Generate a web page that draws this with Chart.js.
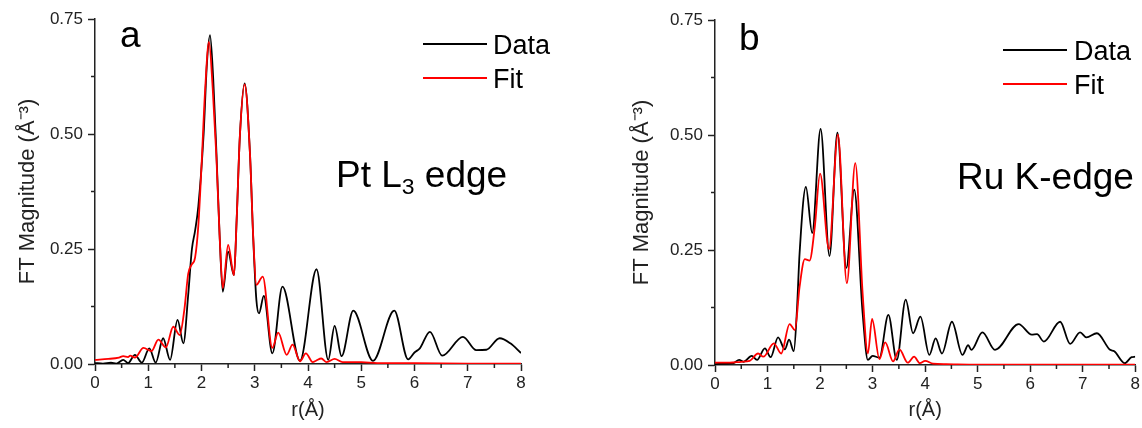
<!DOCTYPE html>
<html>
<head>
<meta charset="utf-8">
<script src="https://cdn.jsdelivr.net/npm/chart.js@4.4.1/dist/chart.umd.min.js"></script>
<style>
  body { margin: 0; background: #fff; }
  #wrap { position: relative; width: 1142px; height: 428px; overflow: hidden; font-family: "Liberation Sans", Arial, sans-serif; color: #000; }
  canvas { position: absolute; top: 0; }
  .txt { position: absolute; line-height: 1; white-space: nowrap; }
  .big { font-size: 37px; }
  .leg { font-size: 27px; }
  .legline { position: absolute; height: 2px; }
  sub { font-size: 0.62em; vertical-align: -0.32em; line-height: 0; }
</style>
</head>
<body>
<div id="wrap">
  <canvas id="chartA" width="560" height="428" style="left:0"></canvas>
  <canvas id="chartB" width="522" height="428" style="left:620px"></canvas>
  <div class="txt big" style="left:120px;top:16px">a</div>
  <div class="txt big" style="left:739px;top:19px">b</div>
  <div class="txt big" style="left:336px;top:156px">Pt L<sub>3</sub> edge</div>
  <div class="txt big" style="left:957px;top:158px">Ru K-edge</div>
  <div id="legendA"></div>
  <div id="legendB"></div>
</div>
<script>
// x / y ticks
const xTicks = [0, 1, 2, 3, 4, 5, 6, 7, 8];
const xMinor = [0.5, 1.5, 2.5, 3.5, 4.5, 5.5, 6.5, 7.5];
const yTicks = [0, 0.25, 0.5, 0.75];
const yMinor = [0.125, 0.375, 0.625];

// panel a - Pt L3 edge
const aDataR = [0, 0.15, 0.3, 0.4, 0.53, 0.62, 0.75, 0.88, 1.02, 1.14, 1.28, 1.41, 1.55, 1.66, 1.75, 1.82, 1.88, 1.94, 2.04, 2.1, 2.16, 2.22, 2.28, 2.34, 2.4, 2.5, 2.61, 2.66, 2.72, 2.81, 2.91, 2.97, 3.03, 3.08, 3.17, 3.33, 3.52, 3.85, 4.16, 4.38, 4.5, 4.63, 4.85, 5.22, 5.62, 5.88, 6.0, 6.1, 6.29, 6.52, 6.91, 7.16, 7.35, 7.6, 7.8, 8.0];
const aDataY = [0.002, 0.001, 0.003, 0.001, 0.009, 0.002, 0.02, 0.003, 0.034, 0.003, 0.056, 0.009, 0.096, 0.045, 0.15, 0.25, 0.29, 0.342, 0.5, 0.65, 0.715, 0.62, 0.46, 0.28, 0.157, 0.244, 0.193, 0.313, 0.494, 0.61, 0.458, 0.277, 0.14, 0.11, 0.148, 0.023, 0.168, 0.007, 0.206, 0.009, 0.083, 0.017, 0.116, 0.007, 0.116, 0.01, 0.025, 0.034, 0.07, 0.018, 0.059, 0.03, 0.031, 0.056, 0.045, 0.024];
const aFitR = [0, 0.25, 0.45, 0.53, 0.62, 0.66, 0.75, 0.91, 1.06, 1.19, 1.33, 1.47, 1.59, 1.68, 1.75, 1.81, 1.88, 1.94, 2.0, 2.07, 2.14, 2.21, 2.28, 2.34, 2.4, 2.5, 2.61, 2.66, 2.72, 2.81, 2.91, 2.97, 3.03, 3.15, 3.33, 3.44, 3.6, 3.71, 3.85, 3.96, 4.09, 4.15, 4.25, 4.35, 4.5, 4.65, 5.0, 5.3, 6.0, 7.0, 8.0];
const aFitY = [0.009, 0.011, 0.014, 0.017, 0.015, 0.018, 0.014, 0.035, 0.028, 0.053, 0.036, 0.081, 0.063, 0.12, 0.196, 0.215, 0.232, 0.3, 0.43, 0.6, 0.7, 0.6, 0.45, 0.28, 0.165, 0.259, 0.193, 0.313, 0.494, 0.608, 0.458, 0.28, 0.172, 0.19, 0.035, 0.068, 0.02, 0.042, 0.006, 0.023, 0.004, 0.007, 0.012, 0.004, 0.011, 0.004, 0.004, 0.002, 0.002, 0.001, 0.001];

// panel b - Ru K-edge
const bDataR = [0, 0.2, 0.35, 0.46, 0.54, 0.7, 0.8, 0.95, 1.06, 1.2, 1.33, 1.41, 1.5, 1.56, 1.61, 1.73, 1.85, 2.01, 2.18, 2.33, 2.5, 2.65, 2.81, 2.91, 3.0, 3.13, 3.3, 3.46, 3.63, 3.77, 3.91, 4.08, 4.2, 4.32, 4.51, 4.71, 4.82, 4.88, 5.09, 5.33, 5.78, 6.03, 6.13, 6.26, 6.57, 6.76, 6.95, 7.07, 7.27, 7.52, 7.6, 7.8, 7.93, 8.0];
const bDataY = [0.002, 0.003, 0.004, 0.011, 0.007, 0.02, 0.011, 0.036, 0.017, 0.06, 0.034, 0.055, 0.03, 0.12, 0.243, 0.387, 0.287, 0.513, 0.237, 0.505, 0.211, 0.381, 0.113, 0.011, 0.02, 0.016, 0.109, 0.011, 0.142, 0.069, 0.105, 0.022, 0.058, 0.025, 0.094, 0.022, 0.043, 0.033, 0.071, 0.033, 0.089, 0.066, 0.067, 0.051, 0.094, 0.046, 0.071, 0.06, 0.069, 0.033, 0.03, 0.004, 0.017, 0.018];
const bFitR = [0, 0.28, 0.5, 0.66, 0.82, 0.92, 1.12, 1.26, 1.42, 1.52, 1.61, 1.71, 1.8, 1.9, 2.0, 2.17, 2.34, 2.51, 2.67, 2.81, 2.91, 2.99, 3.13, 3.24, 3.39, 3.51, 3.67, 3.79, 3.9, 4.0, 4.15, 4.4, 5.0, 8.0];
const bFitY = [0.005, 0.005, 0.007, 0.009, 0.025, 0.018, 0.047, 0.025, 0.089, 0.076, 0.17, 0.23, 0.227, 0.301, 0.416, 0.252, 0.501, 0.178, 0.439, 0.156, 0.025, 0.1, 0.013, 0.049, 0.008, 0.034, 0.005, 0.018, 0.004, 0.009, 0.003, 0.002, 0.001, 0.001];

const axisColor = '#222';
const fontFamily = '"Liberation Sans", Arial, sans-serif';

const pts = (rs, ys) => rs.map((r, i) => ({ x: r, y: ys[i] }));

// draws the short minor ticks between the labelled ones
const minorTicks = {
  id: 'minorTicks',
  afterDraw(chart) {
    const { ctx, scales: { x, y } } = chart;
    ctx.save();
    ctx.strokeStyle = axisColor;
    ctx.lineWidth = 1.5;
    ctx.beginPath();
    xMinor.forEach(v => { const px = x.getPixelForValue(v); ctx.moveTo(px, x.top); ctx.lineTo(px, x.top + 4); });
    yMinor.forEach(v => { const py = y.getPixelForValue(v); ctx.moveTo(y.right, py); ctx.lineTo(y.right - 4, py); });
    ctx.stroke();
    ctx.restore();
  }
};

function makeChart(id, dataR, dataY, fitR, fitY, opts) {
  return new Chart(document.getElementById(id), {
    type: 'line',
    data: {
      datasets: [
        { label: 'Data', data: pts(dataR, dataY), borderColor: '#000', order: 1 },
        { label: 'Fit', data: pts(fitR, fitY), borderColor: '#ff0000', order: 0 }
      ]
    },
    options: {
      responsive: false,
      animation: false,
      devicePixelRatio: 1,
      layout: { padding: { top: opts.top, right: opts.right, left: 0, bottom: 0 } },
      elements: {
        point: { radius: 0 },
        line: { borderWidth: 1.8, cubicInterpolationMode: 'monotone' }
      },
      plugins: { legend: { display: false }, tooltip: { enabled: false } },
      scales: {
        x: {
          type: 'linear', min: 0, max: 8,
          afterBuildTicks: s => { s.ticks = xTicks.map(v => ({ value: v })); },
          afterFit: s => { s.height = opts.xh; },
          border: { color: axisColor, width: 1.5 },
          grid: { drawOnChartArea: false, tickLength: 7, tickColor: axisColor, tickWidth: 1.5 },
          ticks: { color: '#222', padding: 2, font: { family: fontFamily, size: 17 } },
          title: { display: true, text: 'r(Å)', color: '#222', padding: { top: 0, bottom: 6 }, font: { family: fontFamily, size: 20 } }
        },
        y: {
          type: 'linear', min: 0, max: 0.75,
          afterBuildTicks: s => { s.ticks = yTicks.map(v => ({ value: v })); },
          afterFit: s => { s.width = 95; },
          border: { color: axisColor, width: 1.5 },
          grid: { drawOnChartArea: false, tickLength: 7, tickColor: axisColor, tickWidth: 1.5 },
          ticks: { color: '#222', padding: 5, font: { family: fontFamily, size: 17 }, callback: v => v.toFixed(2) },
          title: { display: true, text: 'FT Magnitude (Å⁻³)', color: '#222', padding: { top: opts.tp, bottom: 0 }, font: { family: fontFamily, size: 22 } }
        }
      }
    },
    plugins: [minorTicks]
  });
}

const chartA = makeChart('chartA', aDataR, aDataY, aFitR, aFitY, { top: 19, right: 39, xh: 64, tp: 15 });
const chartB = makeChart('chartB', bDataR, bDataY, bFitR, bFitY, { top: 20, right: 5, xh: 63, tp: 9 });

// html legends built from the dataset labels
function buildLegend(elId, chart, lineX, textX, rows) {
  const el = document.getElementById(elId);
  chart.data.datasets.forEach((ds, i) => {
    el.innerHTML += `<div class="legline" style="left:${lineX}px;top:${rows[i] - 1}px;width:64px;background:${ds.borderColor}"></div>` +
      `<div class="txt leg" style="left:${textX}px;top:${rows[i] - 12}px">${ds.label}</div>`;
  });
}
buildLegend('legendA', chartA, 423, 493, [44, 78]);
buildLegend('legendB', chartB, 1003, 1074, [50, 84]);
</script>
</body>
</html>
